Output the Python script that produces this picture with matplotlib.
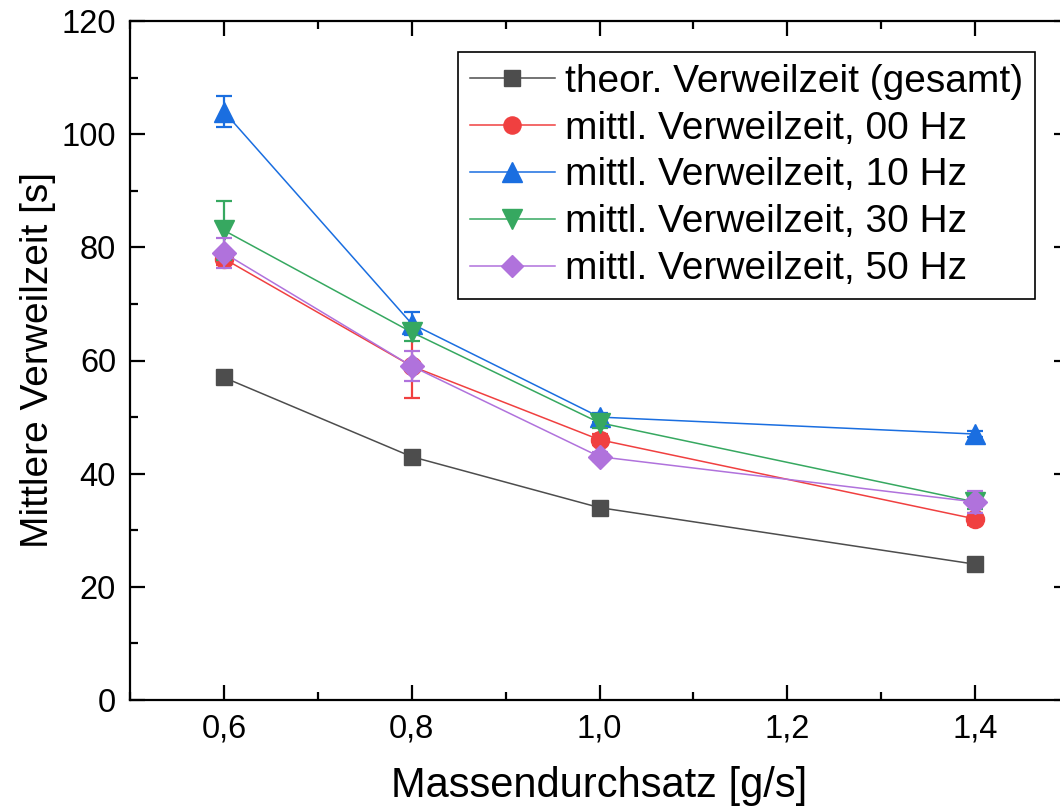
import numpy as np
import matplotlib
matplotlib.use("Agg")
import matplotlib.pyplot as plt
from matplotlib.lines import Line2D
from matplotlib.ticker import MultipleLocator, FuncFormatter

plt.rcParams['font.family'] = ['Liberation Sans', 'DejaVu Sans']

# data
x = [0.6, 0.8, 1.0, 1.4]
theor = [57, 43, 34, 24]
hz00 = [78, 59, 46, 32]
hz00_err = [1.2, 5.7, 1.0, 1.0]
hz10 = [104, 66.5, 50, 47]
hz10_err = [2.7, 2.0, 0.8, 0.6]
hz30 = [83, 65, 49, 35]
hz30_err = [5.2, 1.5, 1.0, 1.3]
hz50 = [79, 59, 43, 35]
hz50_err = [2.6, 2.7, 0.8, 2.0]

labels = ["theor. Verweilzeit (gesamt)", "mittl. Verweilzeit, 00 Hz",
          "mittl. Verweilzeit, 10 Hz", "mittl. Verweilzeit, 30 Hz",
          "mittl. Verweilzeit, 50 Hz"]
colors = ['#4d4d4d', '#f04040', '#1a6ee0', '#36a860', '#b072dc']
markers = ['s', 'o', '^', 'v', 'D']
msizes = [11.5, 13, 15, 15, 12]

fig = plt.figure(figsize=(10.6, 8.1), dpi=100)
ax = fig.add_axes([130/1060, 1 - 700/810, 939/1060, 679/810])

ax.plot(x, theor, color=colors[0], marker=markers[0], ms=msizes[0], lw=1.1, zorder=3)
series = [(hz00, hz00_err), (hz10, hz10_err), (hz30, hz30_err), (hz50, hz50_err)]
for i, (y, e) in enumerate(series):
    ax.errorbar(x, y, yerr=e, color=colors[i+1], marker=markers[i+1], ms=msizes[i+1],
                lw=1.1, elinewidth=1.6, capsize=6, capthick=1.6, zorder=3+i)

ax.set_xlim(0.5, 1.5)
ax.set_ylim(0, 120)
ax.xaxis.set_major_locator(MultipleLocator(0.2))
ax.xaxis.set_minor_locator(MultipleLocator(0.1))
ax.yaxis.set_major_locator(MultipleLocator(20))
ax.yaxis.set_minor_locator(MultipleLocator(10))
ax.xaxis.set_major_formatter(FuncFormatter(lambda v, p: ("%.1f" % v).replace('.', ',')))

ax.tick_params(which='both', direction='in', top=True, right=True, width=1.6)
ax.tick_params(which='major', length=11, labelsize=23.5, pad=10)
ax.tick_params(which='minor', length=6)
for s in ax.spines.values():
    s.set_linewidth(1.6)

ax.set_xlabel("Massendurchsatz [g/s]", fontsize=30, labelpad=15)
ax.set_ylabel("Mittlere Verweilzeit [s]", fontsize=28, labelpad=4)

handles = [Line2D([], [], color=c, marker=m, ms=ms * 0.95, lw=1.1)
           for c, m, ms in zip(colors, markers, msizes)]
leg = ax.legend(handles, labels, loc='upper left',
                bbox_to_anchor=(328/939, 1 - 31/679),
                fontsize=28, frameon=True, fancybox=False, edgecolor='black',
                handlelength=2.2, handletextpad=0.25, borderpad=0.3,
                labelspacing=0.28, borderaxespad=0, framealpha=1)
leg.get_frame().set_linewidth(1.2)

fig.savefig("out.png", dpi=100)
